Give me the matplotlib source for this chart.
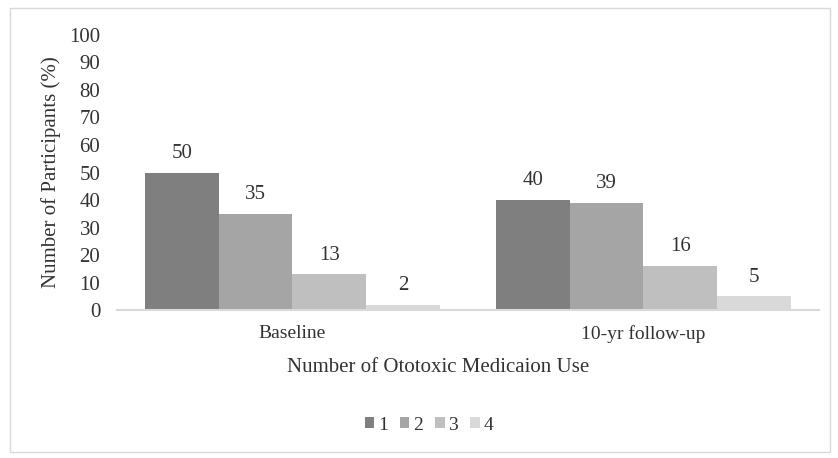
import numpy as np
import matplotlib
matplotlib.use("Agg")
import matplotlib.pyplot as plt
from matplotlib.patches import Rectangle

plt.rcParams['font.family'] = ['Liberation Serif', 'DejaVu Serif']

# data
groups = ["Baseline", "10-yr follow-up"]
series_names = ["1", "2", "3", "4"]
baseline = [50, 35, 13, 2]
followup = [40, 39, 16, 5]
colors = ["#7f7f7f", "#a5a5a5", "#bfbfbf", "#d9d9d9"]

values = np.array([baseline, followup])

fig = plt.figure(figsize=(8.38, 4.58), dpi=100)
ax = fig.add_axes([0.1396, 0.3231, 0.8377, 0.6005])

x = np.arange(len(groups))
width = 0.21
for i, name in enumerate(series_names):
    pos = x + (i - 1.5) * width
    bars = ax.bar(pos, values[:, i], width, color=colors[i], label=name, zorder=2)
    for b, v in zip(bars, values[:, i]):
        ax.text(b.get_x() + b.get_width() / 2, v + 3.5, str(v), ha="center",
                va="bottom", fontsize=15, color="#333333")

ax.set_xlim(-0.5, 1.5)
ax.set_ylim(0, 100)
ax.set_yticks(range(0, 101, 10))
ax.set_xticks(x)
ax.set_xticklabels(groups, fontsize=14, color="#333333")
ax.tick_params(axis="both", length=0, labelsize=15, labelcolor="#333333")
ax.tick_params(axis="x", labelsize=14, pad=11)
ax.tick_params(axis="y", pad=12)
for s in ["top", "right", "left"]:
    ax.spines[s].set_visible(False)
ax.spines["bottom"].set_color("#d9d9d9")
ax.spines["bottom"].set_linewidth(1.5)

ax.set_ylabel("Number of Participants (%)", fontsize=15, color="#333333", labelpad=6)
ax.set_xlabel("Number of Ototoxic Medicaion Use", fontsize=15, color="#333333")
ax.xaxis.set_label_coords(0.457, -0.175)

fig.legend(loc="center", bbox_to_anchor=(0.512, 0.072), ncol=4, frameon=False,
           fontsize=14, handlelength=0.48, handleheight=0.48, handletextpad=0.2,
           columnspacing=0.62, labelcolor="#333333")

# light border around the whole chart
fig.patches.append(Rectangle((0.012, 0.013), 0.979, 0.97, transform=fig.transFigure,
                             fill=False, edgecolor="#d9d9d9", linewidth=1))

fig.savefig("out.png", dpi=100)
